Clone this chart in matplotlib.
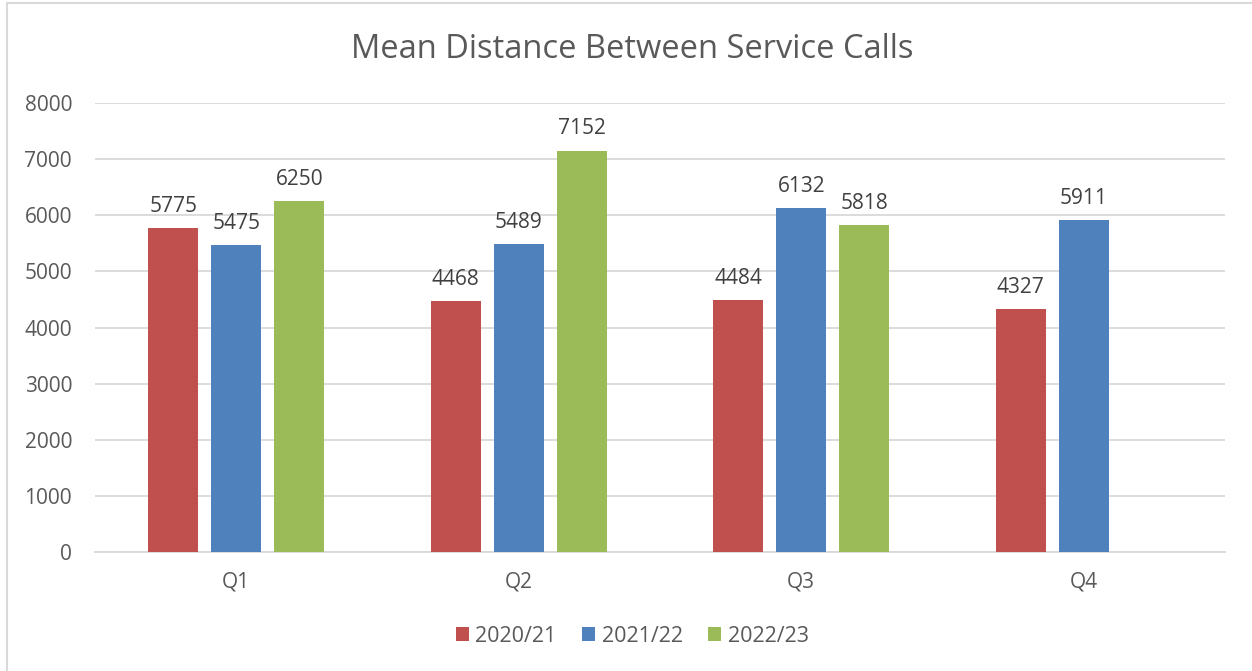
import numpy as np
import matplotlib.pyplot as plt
from matplotlib.patches import Rectangle

quarters = ["Q1", "Q2", "Q3", "Q4"]
series = ["2020/21", "2021/22", "2022/23"]
v_2020 = [5775, 4468, 4484, 4327]
v_2021 = [5475, 5489, 6132, 5911]
v_2022 = [6250, 7152, 5818, None]
colors = ["#C0504D", "#4F81BD", "#9BBB59"]

plt.rcParams['font.family'] = ['Open Sans', 'DejaVu Sans']
txt = "#595959"

fig = plt.figure(figsize=(12.52, 6.71), dpi=100)
ax = fig.add_axes([95 / 1252, 1 - 552 / 671, 1130 / 1252, 449 / 671])

x = np.arange(len(quarters))
w = 0.177
step = 0.223
for i, (name, vals) in enumerate(zip(series, [v_2020, v_2021, v_2022])):
    xs = [xi + (i - 1) * step for xi, v in zip(x, vals) if v is not None]
    ys = [v for v in vals if v is not None]
    bars = ax.bar(xs, ys, width=w, color=colors[i], label=name, zorder=3)
    for b, v in zip(bars, ys):
        ax.annotate(str(v), (b.get_x() + b.get_width() / 2, v), xytext=(0, 8),
                    textcoords="offset points", ha="center", va="bottom",
                    fontsize=15, color="#404040")

ax.set_xlim(-0.5, 3.5)
ax.set_ylim(0, 8000)
ax.set_yticks(range(0, 8001, 1000))
ax.yaxis.grid(True, color="#D9D9D9", linewidth=1.3, zorder=0)
ax.set_xticks(x)
ax.set_xticklabels(quarters)
ax.tick_params(axis="both", length=0, labelsize=15, labelcolor=txt)
ax.tick_params(axis="x", pad=14)
ax.tick_params(axis="y", pad=16.5)
for s in ["top", "right", "left"]:
    ax.spines[s].set_visible(False)
ax.spines["bottom"].set_color("#D9D9D9")
ax.spines["bottom"].set_linewidth(1.3)

fig.text(0.505, 1 - 49 / 671, "Mean Distance Between Service Calls", ha="center",
         va="center", fontsize=23.5, color=txt)

fig.legend(loc="center", bbox_to_anchor=(0.505, 1 - 636 / 671), ncol=3, frameon=False,
           fontsize=15.5, labelcolor=txt, handlelength=0.6, handleheight=0.6,
           handletextpad=0.3, columnspacing=1.2)

fig.patches.append(Rectangle((7 / 1252, -0.1), 1.2, 1 - 3 / 671 + 0.1, transform=fig.transFigure,
                             fill=False, edgecolor="#D9D9D9", linewidth=1.5))

fig.savefig("out.png", dpi=100)
